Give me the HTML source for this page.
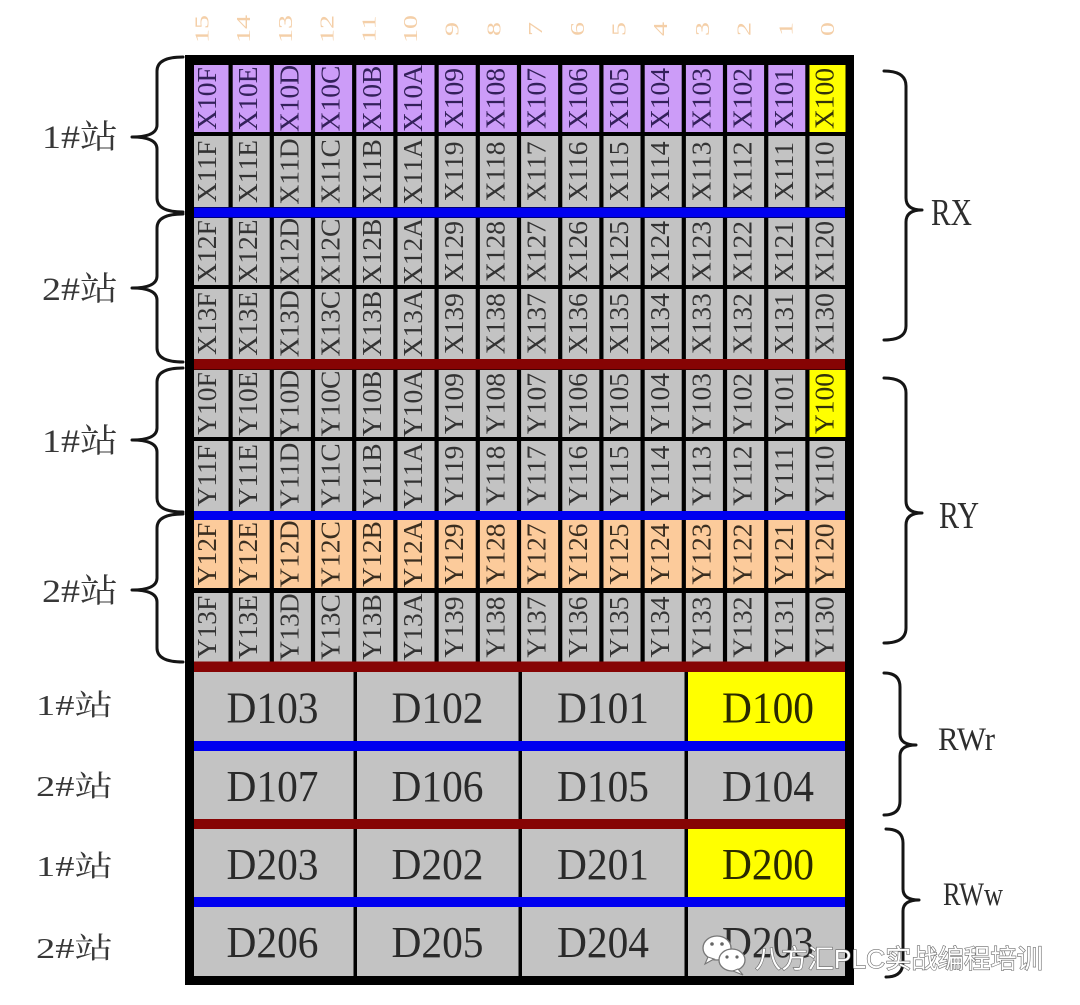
<!DOCTYPE html>
<html><head><meta charset="utf-8">
<style>
html,body{margin:0;padding:0;background:#fff;}
svg{display:block;}
.c{font-family:"Liberation Serif",serif;font-size:27.5px;text-anchor:middle;fill:#333;}
.p{fill:#33205a;}
.y{fill:#33330a;}
.o{fill:#3a2e20;}
.n{font-family:"Liberation Serif",serif;font-size:20px;text-anchor:middle;fill:#f4cfa8;}
.d{font-family:"Liberation Serif",serif;font-size:44px;text-anchor:middle;fill:#2a2a2a;}
.l{font-family:"Liberation Serif","Noto Serif CJK SC",serif;fill:#383838;}
.r{font-family:"Liberation Serif",serif;fill:#2e2e2e;}
.b{fill:none;stroke:#151515;stroke-width:3;stroke-linecap:round;stroke-linejoin:round;}
.w{font-family:"Liberation Sans","Noto Sans CJK SC",sans-serif;font-size:26px;fill:#fff;stroke:#6a6a6a;stroke-width:1.2;paint-order:stroke fill;}
</style></head>
<body>
<svg width="1080" height="1005" viewBox="0 0 1080 1005" xmlns="http://www.w3.org/2000/svg">
<rect width="1080" height="1005" fill="#fff"/>
<rect x="185" y="55" width="669" height="930" fill="#000"/>
<rect x="194" y="65" width="651" height="67" fill="#cc9cf8"/>
<rect x="194" y="136" width="651" height="71" fill="#c3c3c3"/>
<rect x="194" y="218" width="651" height="67" fill="#c3c3c3"/>
<rect x="194" y="289" width="651" height="70" fill="#c3c3c3"/>
<rect x="194" y="370" width="651" height="67" fill="#c3c3c3"/>
<rect x="194" y="441" width="651" height="70" fill="#c3c3c3"/>
<rect x="194" y="520" width="651" height="68" fill="#fccb9b"/>
<rect x="194" y="593" width="651" height="69" fill="#c3c3c3"/>
<rect x="809.5" y="65" width="36" height="67" fill="#ffff00"/>
<rect x="809.5" y="370" width="36" height="67" fill="#ffff00"/>
<g fill="#000">
<rect x="228.5" y="64" width="4.2" height="598"/>
<rect x="269.7" y="64" width="4.2" height="598"/>
<rect x="310.9" y="64" width="4.2" height="598"/>
<rect x="352.1" y="64" width="4.2" height="598"/>
<rect x="393.3" y="64" width="4.2" height="598"/>
<rect x="434.5" y="64" width="4.2" height="598"/>
<rect x="475.7" y="64" width="4.2" height="598"/>
<rect x="516.9" y="64" width="4.2" height="598"/>
<rect x="558.1" y="64" width="4.2" height="598"/>
<rect x="599.3" y="64" width="4.2" height="598"/>
<rect x="640.5" y="64" width="4.2" height="598"/>
<rect x="681.7" y="64" width="4.2" height="598"/>
<rect x="722.9" y="64" width="4.2" height="598"/>
<rect x="764.1" y="64" width="4.2" height="598"/>
<rect x="805.3" y="64" width="4.2" height="598"/>
</g>
<rect x="194" y="672" width="651" height="304" fill="#c3c3c3"/>
<rect x="688" y="672" width="157" height="69" fill="#ffff00"/>
<rect x="688" y="829" width="157" height="68" fill="#ffff00"/>
<g fill="#000">
<rect x="353.5" y="672" width="3.5" height="304"/>
<rect x="518.5" y="672" width="3.5" height="304"/>
<rect x="684.5" y="672" width="3.5" height="304"/>
</g>
<rect x="194" y="207.5" width="651" height="10" fill="#0000f0"/>
<rect x="194" y="359" width="651" height="10.5" fill="#860404"/>
<rect x="194" y="511" width="651" height="9" fill="#0000f0"/>
<rect x="194" y="661.5" width="651" height="10.5" fill="#860404"/>
<rect x="194" y="741" width="651" height="10" fill="#0000f0"/>
<rect x="194" y="819" width="651" height="10" fill="#860404"/>
<rect x="194" y="897" width="651" height="10" fill="#0000f0"/>

<g class="n">
<text transform="translate(208.5,29) rotate(-90) scale(1.4,1)">15</text>
<text transform="translate(250.2,29) rotate(-90) scale(1.4,1)">14</text>
<text transform="translate(291.9,29) rotate(-90) scale(1.4,1)">13</text>
<text transform="translate(333.6,29) rotate(-90) scale(1.4,1)">12</text>
<text transform="translate(375.3,29) rotate(-90) scale(1.4,1)">11</text>
<text transform="translate(417,29) rotate(-90) scale(1.4,1)">10</text>
<text transform="translate(458.7,29) rotate(-90) scale(1.4,1)">9</text>
<text transform="translate(500.4,29) rotate(-90) scale(1.4,1)">8</text>
<text transform="translate(542.1,29) rotate(-90) scale(1.4,1)">7</text>
<text transform="translate(583.8,29) rotate(-90) scale(1.4,1)">6</text>
<text transform="translate(625.5,29) rotate(-90) scale(1.4,1)">5</text>
<text transform="translate(667.2,29) rotate(-90) scale(1.4,1)">4</text>
<text transform="translate(708.9,29) rotate(-90) scale(1.4,1)">3</text>
<text transform="translate(750.6,29) rotate(-90) scale(1.4,1)">2</text>
<text transform="translate(792.3,29) rotate(-90) scale(1.4,1)">1</text>
<text transform="translate(834,29) rotate(-90) scale(1.4,1)">0</text>
</g>

<g class="c p">
<text transform="translate(216,98.5) rotate(-90)">X10F</text>
<text transform="translate(257.2,98.5) rotate(-90)">X10E</text>
<text transform="translate(298.4,98.5) rotate(-90)">X10D</text>
<text transform="translate(339.6,98.5) rotate(-90)">X10C</text>
<text transform="translate(380.8,98.5) rotate(-90)">X10B</text>
<text transform="translate(422,98.5) rotate(-90)">X10A</text>
<text transform="translate(463.2,98.5) rotate(-90)">X109</text>
<text transform="translate(504.4,98.5) rotate(-90)">X108</text>
<text transform="translate(545.6,98.5) rotate(-90)">X107</text>
<text transform="translate(586.8,98.5) rotate(-90)">X106</text>
<text transform="translate(628,98.5) rotate(-90)">X105</text>
<text transform="translate(669.2,98.5) rotate(-90)">X104</text>
<text transform="translate(710.4,98.5) rotate(-90)">X103</text>
<text transform="translate(751.6,98.5) rotate(-90)">X102</text>
<text transform="translate(792.8,98.5) rotate(-90)">X101</text>
</g>
<text class="c y" transform="translate(833.5,98.5) rotate(-90)">X100</text>
<g class="c">
<text transform="translate(216,171.5) rotate(-90)">X11F</text>
<text transform="translate(257.2,171.5) rotate(-90)">X11E</text>
<text transform="translate(298.4,171.5) rotate(-90)">X11D</text>
<text transform="translate(339.6,171.5) rotate(-90)">X11C</text>
<text transform="translate(380.8,171.5) rotate(-90)">X11B</text>
<text transform="translate(422,171.5) rotate(-90)">X11A</text>
<text transform="translate(463.2,171.5) rotate(-90)">X119</text>
<text transform="translate(504.4,171.5) rotate(-90)">X118</text>
<text transform="translate(545.6,171.5) rotate(-90)">X117</text>
<text transform="translate(586.8,171.5) rotate(-90)">X116</text>
<text transform="translate(628,171.5) rotate(-90)">X115</text>
<text transform="translate(669.2,171.5) rotate(-90)">X114</text>
<text transform="translate(710.4,171.5) rotate(-90)">X113</text>
<text transform="translate(751.6,171.5) rotate(-90)">X112</text>
<text transform="translate(792.8,171.5) rotate(-90)">X111</text>
<text transform="translate(833.5,171.5) rotate(-90)">X110</text>
</g>
<g class="c">
<text transform="translate(216,251.5) rotate(-90)">X12F</text>
<text transform="translate(257.2,251.5) rotate(-90)">X12E</text>
<text transform="translate(298.4,251.5) rotate(-90)">X12D</text>
<text transform="translate(339.6,251.5) rotate(-90)">X12C</text>
<text transform="translate(380.8,251.5) rotate(-90)">X12B</text>
<text transform="translate(422,251.5) rotate(-90)">X12A</text>
<text transform="translate(463.2,251.5) rotate(-90)">X129</text>
<text transform="translate(504.4,251.5) rotate(-90)">X128</text>
<text transform="translate(545.6,251.5) rotate(-90)">X127</text>
<text transform="translate(586.8,251.5) rotate(-90)">X126</text>
<text transform="translate(628,251.5) rotate(-90)">X125</text>
<text transform="translate(669.2,251.5) rotate(-90)">X124</text>
<text transform="translate(710.4,251.5) rotate(-90)">X123</text>
<text transform="translate(751.6,251.5) rotate(-90)">X122</text>
<text transform="translate(792.8,251.5) rotate(-90)">X121</text>
<text transform="translate(833.5,251.5) rotate(-90)">X120</text>
</g>
<g class="c">
<text transform="translate(216,323.7) rotate(-90)">X13F</text>
<text transform="translate(257.2,323.7) rotate(-90)">X13E</text>
<text transform="translate(298.4,323.7) rotate(-90)">X13D</text>
<text transform="translate(339.6,323.7) rotate(-90)">X13C</text>
<text transform="translate(380.8,323.7) rotate(-90)">X13B</text>
<text transform="translate(422,323.7) rotate(-90)">X13A</text>
<text transform="translate(463.2,323.7) rotate(-90)">X139</text>
<text transform="translate(504.4,323.7) rotate(-90)">X138</text>
<text transform="translate(545.6,323.7) rotate(-90)">X137</text>
<text transform="translate(586.8,323.7) rotate(-90)">X136</text>
<text transform="translate(628,323.7) rotate(-90)">X135</text>
<text transform="translate(669.2,323.7) rotate(-90)">X134</text>
<text transform="translate(710.4,323.7) rotate(-90)">X133</text>
<text transform="translate(751.6,323.7) rotate(-90)">X132</text>
<text transform="translate(792.8,323.7) rotate(-90)">X131</text>
<text transform="translate(833.5,323.7) rotate(-90)">X130</text>
</g>
<g class="c">
<text transform="translate(216,403.5) rotate(-90)">Y10F</text>
<text transform="translate(257.2,403.5) rotate(-90)">Y10E</text>
<text transform="translate(298.4,403.5) rotate(-90)">Y10D</text>
<text transform="translate(339.6,403.5) rotate(-90)">Y10C</text>
<text transform="translate(380.8,403.5) rotate(-90)">Y10B</text>
<text transform="translate(422,403.5) rotate(-90)">Y10A</text>
<text transform="translate(463.2,403.5) rotate(-90)">Y109</text>
<text transform="translate(504.4,403.5) rotate(-90)">Y108</text>
<text transform="translate(545.6,403.5) rotate(-90)">Y107</text>
<text transform="translate(586.8,403.5) rotate(-90)">Y106</text>
<text transform="translate(628,403.5) rotate(-90)">Y105</text>
<text transform="translate(669.2,403.5) rotate(-90)">Y104</text>
<text transform="translate(710.4,403.5) rotate(-90)">Y103</text>
<text transform="translate(751.6,403.5) rotate(-90)">Y102</text>
<text transform="translate(792.8,403.5) rotate(-90)">Y101</text>
</g>
<text class="c y" transform="translate(833.5,403.5) rotate(-90)">Y100</text>
<g class="c">
<text transform="translate(216,475.7) rotate(-90)">Y11F</text>
<text transform="translate(257.2,475.7) rotate(-90)">Y11E</text>
<text transform="translate(298.4,475.7) rotate(-90)">Y11D</text>
<text transform="translate(339.6,475.7) rotate(-90)">Y11C</text>
<text transform="translate(380.8,475.7) rotate(-90)">Y11B</text>
<text transform="translate(422,475.7) rotate(-90)">Y11A</text>
<text transform="translate(463.2,475.7) rotate(-90)">Y119</text>
<text transform="translate(504.4,475.7) rotate(-90)">Y118</text>
<text transform="translate(545.6,475.7) rotate(-90)">Y117</text>
<text transform="translate(586.8,475.7) rotate(-90)">Y116</text>
<text transform="translate(628,475.7) rotate(-90)">Y115</text>
<text transform="translate(669.2,475.7) rotate(-90)">Y114</text>
<text transform="translate(710.4,475.7) rotate(-90)">Y113</text>
<text transform="translate(751.6,475.7) rotate(-90)">Y112</text>
<text transform="translate(792.8,475.7) rotate(-90)">Y111</text>
<text transform="translate(833.5,475.7) rotate(-90)">Y110</text>
</g>
<g class="c o">
<text transform="translate(216,554) rotate(-90)">Y12F</text>
<text transform="translate(257.2,554) rotate(-90)">Y12E</text>
<text transform="translate(298.4,554) rotate(-90)">Y12D</text>
<text transform="translate(339.6,554) rotate(-90)">Y12C</text>
<text transform="translate(380.8,554) rotate(-90)">Y12B</text>
<text transform="translate(422,554) rotate(-90)">Y12A</text>
<text transform="translate(463.2,554) rotate(-90)">Y129</text>
<text transform="translate(504.4,554) rotate(-90)">Y128</text>
<text transform="translate(545.6,554) rotate(-90)">Y127</text>
<text transform="translate(586.8,554) rotate(-90)">Y126</text>
<text transform="translate(628,554) rotate(-90)">Y125</text>
<text transform="translate(669.2,554) rotate(-90)">Y124</text>
<text transform="translate(710.4,554) rotate(-90)">Y123</text>
<text transform="translate(751.6,554) rotate(-90)">Y122</text>
<text transform="translate(792.8,554) rotate(-90)">Y121</text>
<text transform="translate(833.5,554) rotate(-90)">Y120</text>
</g>
<g class="c">
<text transform="translate(216,627) rotate(-90)">Y13F</text>
<text transform="translate(257.2,627) rotate(-90)">Y13E</text>
<text transform="translate(298.4,627) rotate(-90)">Y13D</text>
<text transform="translate(339.6,627) rotate(-90)">Y13C</text>
<text transform="translate(380.8,627) rotate(-90)">Y13B</text>
<text transform="translate(422,627) rotate(-90)">Y13A</text>
<text transform="translate(463.2,627) rotate(-90)">Y139</text>
<text transform="translate(504.4,627) rotate(-90)">Y138</text>
<text transform="translate(545.6,627) rotate(-90)">Y137</text>
<text transform="translate(586.8,627) rotate(-90)">Y136</text>
<text transform="translate(628,627) rotate(-90)">Y135</text>
<text transform="translate(669.2,627) rotate(-90)">Y134</text>
<text transform="translate(710.4,627) rotate(-90)">Y133</text>
<text transform="translate(751.6,627) rotate(-90)">Y132</text>
<text transform="translate(792.8,627) rotate(-90)">Y131</text>
<text transform="translate(833.5,627) rotate(-90)">Y130</text>
</g>

<g class="d">
<text x="272.5" y="722.5" textLength="92" lengthAdjust="spacingAndGlyphs">D103</text>
<text x="437.5" y="722.5" textLength="92" lengthAdjust="spacingAndGlyphs">D102</text>
<text x="603" y="722.5" textLength="92" lengthAdjust="spacingAndGlyphs">D101</text>
<text x="768" y="722.5" textLength="92" lengthAdjust="spacingAndGlyphs" fill="#2a2a00">D100</text>
<text x="272.5" y="801" textLength="92" lengthAdjust="spacingAndGlyphs">D107</text>
<text x="437.5" y="801" textLength="92" lengthAdjust="spacingAndGlyphs">D106</text>
<text x="603" y="801" textLength="92" lengthAdjust="spacingAndGlyphs">D105</text>
<text x="768" y="801" textLength="92" lengthAdjust="spacingAndGlyphs">D104</text>
<text x="272.5" y="879" textLength="92" lengthAdjust="spacingAndGlyphs">D203</text>
<text x="437.5" y="879" textLength="92" lengthAdjust="spacingAndGlyphs">D202</text>
<text x="603" y="879" textLength="92" lengthAdjust="spacingAndGlyphs">D201</text>
<text x="768" y="879" textLength="92" lengthAdjust="spacingAndGlyphs" fill="#2a2a00">D200</text>
<text x="272.5" y="957" textLength="92" lengthAdjust="spacingAndGlyphs">D206</text>
<text x="437.5" y="957" textLength="92" lengthAdjust="spacingAndGlyphs">D205</text>
<text x="603" y="957" textLength="92" lengthAdjust="spacingAndGlyphs">D204</text>
<text x="768" y="957" textLength="92" lengthAdjust="spacingAndGlyphs">D203</text>
</g>

<path class="b" d="M183,57 Q157,57 157,71 L157,125 Q157,137 132,137 Q157,137 157,149 L157,198 Q157,212 183,212"/>
<path class="b" d="M183,214 Q157,214 157,228 L157,276 Q157,288 132,288 Q157,288 157,300 L157,348 Q157,362 183,362"/>
<path class="b" d="M183,368 Q157,368 157,382 L157,428 Q157,440 132,440 Q157,440 157,452 L157,498 Q157,512 183,512"/>
<path class="b" d="M183,514 Q157,514 157,528 L157,578 Q157,590 132,590 Q157,590 157,602 L157,648 Q157,662 183,662"/>
<path class="b" d="M884,71 Q906,71 906,86 L906,198 Q906,210 922,210 Q906,210 906,222 L906,326 Q906,340 884,340"/>
<path class="b" d="M884,378 Q906,378 906,393 L906,501 Q906,513 922,513 Q906,513 906,525 L906,628 Q906,643 884,643"/>
<path class="b" d="M884,673 Q900,673 900,687 L900,734 Q900,745 916,745 Q900,745 900,756 L900,801 Q900,815 884,815"/>
<path class="b" d="M886,829 Q903,829 903,843 L903,889 Q903,900 919,900 Q903,900 903,911 L903,962 Q903,977 886,977"/>

<g class="l">
<text x="42" y="148" font-size="33" textLength="76" lengthAdjust="spacingAndGlyphs">1#站</text>
<text x="42" y="300" font-size="33" textLength="76" lengthAdjust="spacingAndGlyphs">2#站</text>
<text x="42" y="452" font-size="33" textLength="76" lengthAdjust="spacingAndGlyphs">1#站</text>
<text x="42" y="602" font-size="33" textLength="76" lengthAdjust="spacingAndGlyphs">2#站</text>
<text x="36" y="715" font-size="29" textLength="77" lengthAdjust="spacingAndGlyphs">1#站</text>
<text x="36" y="796" font-size="29" textLength="77" lengthAdjust="spacingAndGlyphs">2#站</text>
<text x="36" y="876" font-size="29" textLength="77" lengthAdjust="spacingAndGlyphs">1#站</text>
<text x="36" y="958" font-size="29" textLength="77" lengthAdjust="spacingAndGlyphs">2#站</text>
</g>
<g class="r">
<text x="931" y="225" font-size="38" textLength="41" lengthAdjust="spacingAndGlyphs">RX</text>
<text x="939" y="528" font-size="38" textLength="40" lengthAdjust="spacingAndGlyphs">RY</text>
<text x="938" y="750" font-size="33" textLength="57" lengthAdjust="spacingAndGlyphs">RWr</text>
<text x="943" y="905" font-size="33" textLength="60" lengthAdjust="spacingAndGlyphs">RWw</text>
</g>

<g>
<ellipse cx="717" cy="948" rx="14" ry="12" fill="#fff" stroke="#777" stroke-width="1.3"/>
<path d="M708,957 L705,964 L714,959 Z" fill="#fff" stroke="#777" stroke-width="1.1"/>
<circle cx="712" cy="944" r="1.8" fill="#666"/>
<circle cx="722" cy="944" r="1.8" fill="#666"/>
<ellipse cx="732" cy="960" rx="13" ry="11" fill="#fff" stroke="#777" stroke-width="1.3"/>
<path d="M738,969 L743,975 L733,971 Z" fill="#fff" stroke="#777" stroke-width="1.1"/>
<circle cx="727" cy="957" r="1.6" fill="#666"/>
<circle cx="737" cy="957" r="1.6" fill="#666"/>
<text class="w" x="755" y="968" textLength="288" lengthAdjust="spacingAndGlyphs">八方汇PLC实战编程培训</text>
</g>
</svg>
</body></html>
